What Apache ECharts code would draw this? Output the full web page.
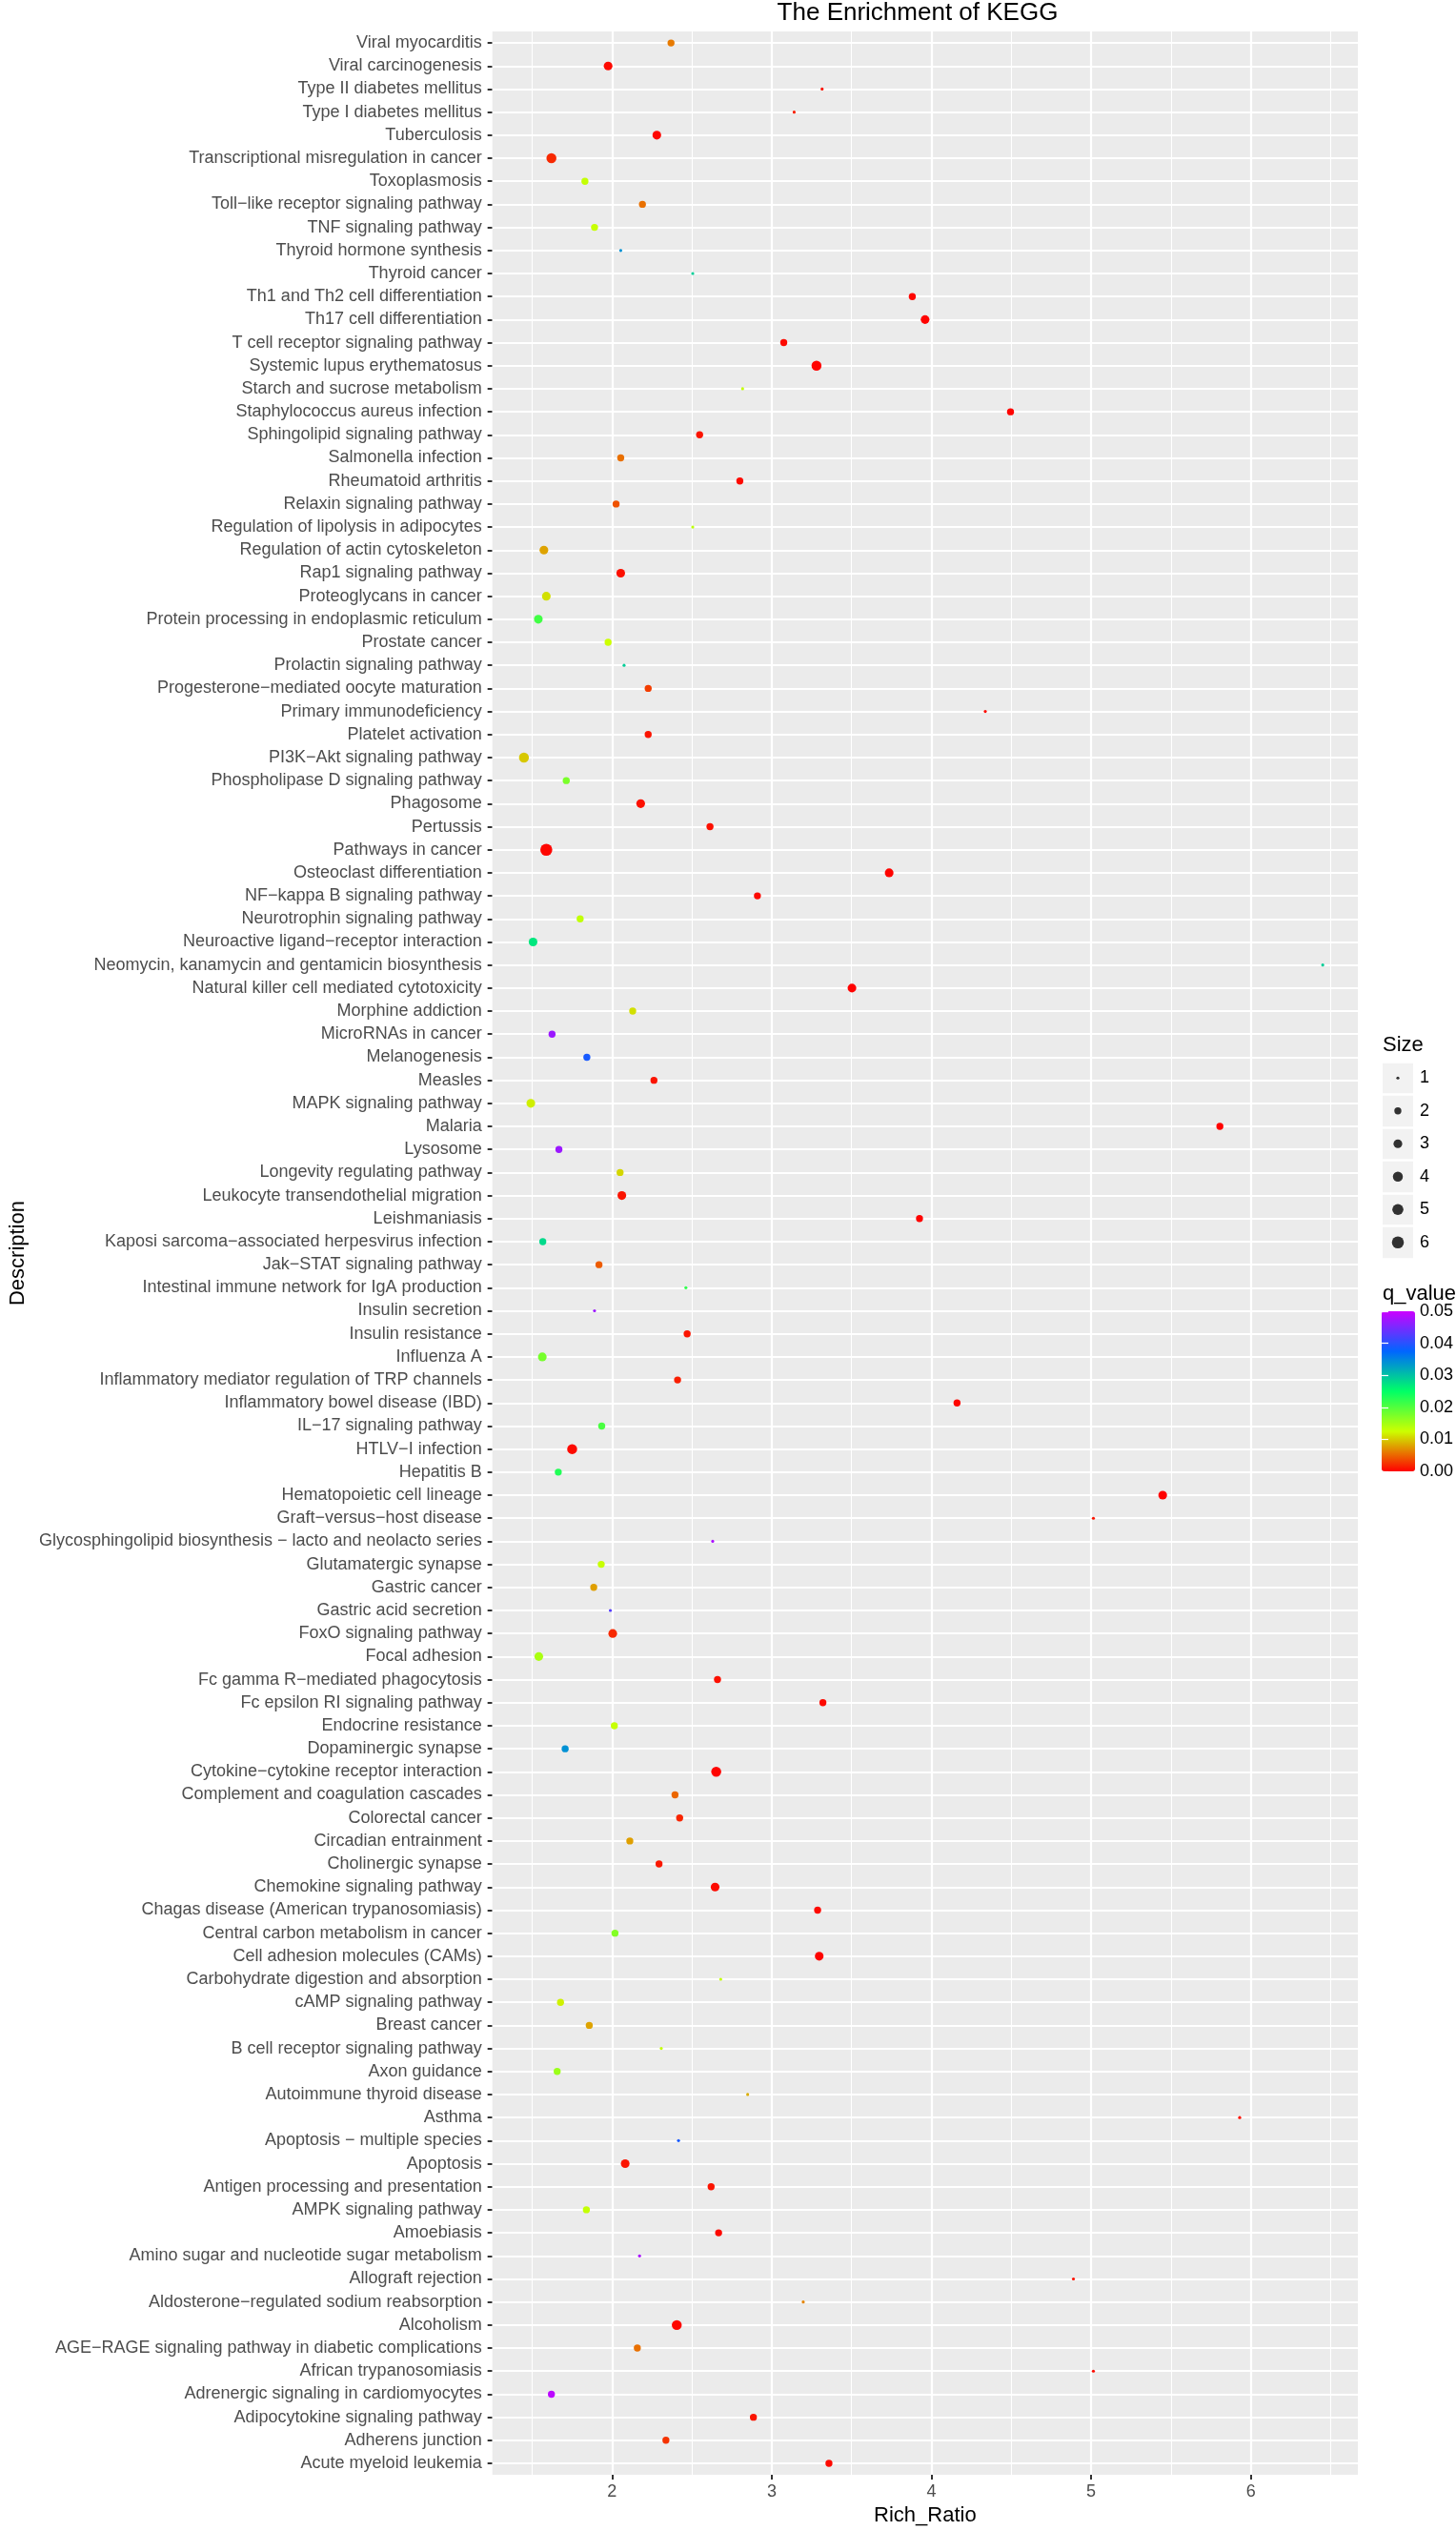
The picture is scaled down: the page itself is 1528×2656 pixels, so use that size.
<!DOCTYPE html>
<html>
<head>
<meta charset="utf-8">
<script src="https://cdn.jsdelivr.net/npm/echarts@6/dist/echarts.min.js"></script>
<style>
html,body{margin:0;padding:0;background:#fff;}
#chart{width:1528px;height:2656px;}
</style>
</head>
<body>
<div id="chart"></div>
<script>
const categories = [
"Viral myocarditis","Viral carcinogenesis","Type II diabetes mellitus","Type I diabetes mellitus","Tuberculosis",
"Transcriptional misregulation in cancer","Toxoplasmosis","Toll\u2212like receptor signaling pathway","TNF signaling pathway","Thyroid hormone synthesis",
"Thyroid cancer","Th1 and Th2 cell differentiation","Th17 cell differentiation","T cell receptor signaling pathway","Systemic lupus erythematosus",
"Starch and sucrose metabolism","Staphylococcus aureus infection","Sphingolipid signaling pathway","Salmonella infection","Rheumatoid arthritis",
"Relaxin signaling pathway","Regulation of lipolysis in adipocytes","Regulation of actin cytoskeleton","Rap1 signaling pathway","Proteoglycans in cancer",
"Protein processing in endoplasmic reticulum","Prostate cancer","Prolactin signaling pathway","Progesterone\u2212mediated oocyte maturation","Primary immunodeficiency",
"Platelet activation","PI3K\u2212Akt signaling pathway","Phospholipase D signaling pathway","Phagosome","Pertussis",
"Pathways in cancer","Osteoclast differentiation","NF\u2212kappa B signaling pathway","Neurotrophin signaling pathway","Neuroactive ligand\u2212receptor interaction",
"Neomycin, kanamycin and gentamicin biosynthesis","Natural killer cell mediated cytotoxicity","Morphine addiction","MicroRNAs in cancer","Melanogenesis",
"Measles","MAPK signaling pathway","Malaria","Lysosome","Longevity regulating pathway",
"Leukocyte transendothelial migration","Leishmaniasis","Kaposi sarcoma\u2212associated herpesvirus infection","Jak\u2212STAT signaling pathway","Intestinal immune network for IgA production",
"Insulin secretion","Insulin resistance","Influenza A","Inflammatory mediator regulation of TRP channels","Inflammatory bowel disease (IBD)",
"IL\u221217 signaling pathway","HTLV\u2212I infection","Hepatitis B","Hematopoietic cell lineage","Graft\u2212versus\u2212host disease",
"Glycosphingolipid biosynthesis \u2212 lacto and neolacto series","Glutamatergic synapse","Gastric cancer","Gastric acid secretion","FoxO signaling pathway",
"Focal adhesion","Fc gamma R\u2212mediated phagocytosis","Fc epsilon RI signaling pathway","Endocrine resistance","Dopaminergic synapse",
"Cytokine\u2212cytokine receptor interaction","Complement and coagulation cascades","Colorectal cancer","Circadian entrainment","Cholinergic synapse",
"Chemokine signaling pathway","Chagas disease (American trypanosomiasis)","Central carbon metabolism in cancer","Cell adhesion molecules (CAMs)","Carbohydrate digestion and absorption",
"cAMP signaling pathway","Breast cancer","B cell receptor signaling pathway","Axon guidance","Autoimmune thyroid disease",
"Asthma","Apoptosis \u2212 multiple species","Apoptosis","Antigen processing and presentation","AMPK signaling pathway",
"Amoebiasis","Amino sugar and nucleotide sugar metabolism","Allograft rejection","Aldosterone\u2212regulated sodium reabsorption","Alcoholism",
"AGE\u2212RAGE signaling pathway in diabetic complications","African trypanosomiasis","Adrenergic signaling in cardiomyocytes","Adipocytokine signaling pathway","Adherens junction",
"Acute myeloid leukemia"
];

const richRatio = [
2.369,1.975,3.315,3.14,2.28,
1.62,1.83,2.19,1.89,2.054,
2.505,3.88,3.96,3.075,3.28,
2.817,4.495,2.548,2.054,2.80,
2.025,2.505,1.573,2.054,1.588,
1.538,1.975,2.075,2.226,4.337,
2.226,1.448,1.713,2.179,2.613,
1.588,3.735,2.91,1.80,1.505,
6.45,3.502,2.129,1.624,1.842,
2.262,1.491,5.806,1.667,2.05,
2.061,3.925,1.566,1.918,2.462,
1.89,2.47,1.563,2.41,4.16,
1.935,1.75,1.663,5.448,5.014,
2.63,1.932,1.885,1.989,2.004,
1.541,2.66,3.32,2.014,1.706,
2.652,2.394,2.423,2.111,2.294,
2.645,3.287,2.018,3.297,2.68,
1.677,1.857,2.308,1.656,2.849,
5.93,2.416,2.082,2.62,1.839,
2.667,2.172,4.889,3.197,2.405,
2.158,5.014,1.62,2.885,2.337,
3.358
];

const qValue = [
0.006,0.0005,0.001,0.0015,0.0003,
0.002,0.013,0.0055,0.0128,0.034,
0.029,0.0003,0.0001,0.0005,0.0001,
0.013,0.0002,0.001,0.0055,0.0005,
0.004,0.0135,0.008,0.0008,0.011,
0.021,0.0125,0.029,0.003,0.0005,
0.001,0.0098,0.0175,0.0008,0.0008,
0.0003,0.0002,0.0005,0.0132,0.027,
0.029,0.0001,0.011,0.047,0.039,
0.001,0.0117,0.0001,0.047,0.0105,
0.001,0.0002,0.028,0.0045,0.022,
0.047,0.001,0.0178,0.0015,0.0003,
0.0205,0.0005,0.023,0.0001,0.001,
0.048,0.0128,0.0078,0.0427,0.002,
0.0146,0.0008,0.0005,0.0128,0.034,
0.0002,0.005,0.0018,0.0078,0.0012,
0.0005,0.0005,0.017,0.0002,0.013,
0.0118,0.008,0.013,0.0155,0.0085,
0.0008,0.039,0.001,0.001,0.013,
0.0005,0.048,0.0008,0.0065,0.0003,
0.0055,0.0005,0.049,0.001,0.0025,
0.0005
];

const geneSize = [
2,3,1,1,3,
4,2,2,2,1,
1,2,3,2,4,
1,2,2,2,2,
2,1,3,3,3,
3,2,1,2,1,
2,4,2,3,2,
6,3,2,2,3,
1,3,2,2,2,
2,3,2,2,2,
3,2,2,2,1,
1,2,3,2,2,
2,4,2,3,1,
1,2,2,1,3,
3,2,2,2,2,
4,2,2,2,2,
3,2,2,3,1,
2,2,1,2,1,
1,1,3,2,2,
2,1,1,1,4,
2,1,2,2,2,
2
];

const xTicks = [2, 3, 4, 5, 6];
const xMinorTicks = [1.5, 2.5, 3.5, 4.5, 5.5, 6.5];
const sizeBreaks = [1, 2, 3, 4, 5, 6];
const qColors = ['#FF0000', '#CCFF00', '#00FF66', '#0066FF', '#CC00FF'];

const FONT = "'Liberation Sans', Arial, Helvetica, sans-serif";
function diam(s) { return 3.2 + 9.4 * Math.sqrt((s - 1) / 5); }

const mainData = categories.map((c, i) => [richRatio[i], c, qValue[i], geneSize[i]]);

const gridLines = []
  .concat(xTicks.map(v => ({ xAxis: v, lineStyle: { color: '#FFFFFF', width: 2.2, type: 'solid' } })))
  .concat(xMinorTicks.map(v => ({ xAxis: v, lineStyle: { color: '#FFFFFF', width: 1.1, type: 'solid' } })))
  .concat(categories.map(c => ({ yAxis: c, lineStyle: { color: '#FFFFFF', width: 2.2, type: 'solid' } })));

const chart = echarts.init(document.getElementById('chart'), null, { renderer: 'canvas' });

chart.setOption({
  animation: false,
  backgroundColor: '#FFFFFF',
  textStyle: { fontFamily: FONT },
  graphic: [
    { type: 'text', x: 963, y: 14, style: { text: 'The Enrichment of KEGG', fill: '#000000', font: "26px " + FONT, align: 'center', verticalAlign: 'middle' } },
    { type: 'text', x: 1451, y: 1097, style: { text: 'Size', fill: '#000000', font: "22px " + FONT, align: 'left', verticalAlign: 'middle' } },
    { type: 'text', x: 1451, y: 1358, style: { text: 'q_value', fill: '#000000', font: "22px " + FONT, align: 'left', verticalAlign: 'middle' } }
  ],
  grid: [
    { left: 501, right: 103, top: 33, bottom: 53, show: true, backgroundColor: '#EBEBEB', borderWidth: 0 },
    { left: 1451, top: 1114, width: 32, height: 207, show: true, backgroundColor: '#F2F2F2', borderWidth: 0 },
    { left: 1450, top: 1376, width: 35, height: 168, show: false }
  ],
  xAxis: [
    {
      gridIndex: 0, type: 'value', min: 1.25, max: 6.67,
      name: 'Rich_Ratio', nameLocation: 'middle', nameGap: 27,
      nameTextStyle: { color: '#000000', fontSize: 22, fontFamily: FONT },
      axisLine: { show: false },
      axisTick: { show: true, customValues: xTicks, length: 5, lineStyle: { color: '#333333', width: 2 } },
      axisLabel: { customValues: xTicks, color: '#4D4D4D', fontSize: 18, fontFamily: FONT, margin: 9 },
      splitLine: { show: false }
    },
    { gridIndex: 1, type: 'value', min: 0, max: 1, show: false },
    { gridIndex: 2, type: 'value', min: 0, max: 1, show: false }
  ],
  yAxis: [
    {
      gridIndex: 0, type: 'category', data: categories, inverse: true,
      name: 'Description', nameLocation: 'middle', nameGap: 476,
      nameTextStyle: { color: '#000000', fontSize: 22, fontFamily: FONT },
      axisLine: { show: false },
      axisTick: { show: true, alignWithLabel: true, length: 5, lineStyle: { color: '#333333', width: 2 } },
      axisLabel: { interval: 0, color: '#4D4D4D', fontSize: 18, fontFamily: FONT, margin: 11 },
      splitLine: { show: false }
    },
    {
      gridIndex: 1, type: 'category', data: sizeBreaks.map(String), inverse: true, position: 'right',
      axisLine: { show: false }, axisTick: { show: false },
      axisLabel: { color: '#000000', fontSize: 18, fontFamily: FONT, margin: 7 },
      splitLine: { show: true, lineStyle: { color: '#FFFFFF', width: 2.5 } }
    },
    {
      gridIndex: 2, type: 'value', min: 0, max: 0.05, interval: 0.01, position: 'right', z: 10,
      axisLine: { show: false },
      axisTick: { show: true, inside: true, length: 7, lineStyle: { color: '#FFFFFF', width: 1.2 } },
      axisLabel: { color: '#000000', fontSize: 18, fontFamily: FONT, margin: 8, formatter: v => v.toFixed(2) },
      splitLine: { show: false }
    },
    {
      gridIndex: 2, type: 'value', min: 0, max: 0.05, interval: 0.01, position: 'left', z: 10,
      axisLine: { show: false },
      axisTick: { show: true, inside: true, length: 7, lineStyle: { color: '#FFFFFF', width: 1.2 } },
      axisLabel: { show: false },
      splitLine: { show: false }
    }
  ],
  visualMap: {
    type: 'continuous', min: 0, max: 0.05, dimension: 2, seriesIndex: 0,
    inRange: { color: qColors },
    calculable: false, realtime: false, hoverLink: false,
    orient: 'vertical', left: 1450, top: 1376, itemWidth: 35, itemHeight: 168,
    padding: 0, text: null, showLabel: false, z: 4
  },
  series: [
    {
      type: 'scatter', xAxisIndex: 0, yAxisIndex: 0, z: 3,
      data: mainData,
      symbol: 'circle',
      symbolSize: v => diam(v[3]),
      itemStyle: { opacity: 1 },
      silent: true,
      markLine: {
        silent: true, z: 1, symbol: ['none', 'none'], label: { show: false },
        animation: false, emphasis: { disabled: true },
        data: gridLines
      }
    },
    {
      type: 'scatter', xAxisIndex: 1, yAxisIndex: 1, z: 3, silent: true,
      data: sizeBreaks.map(s => [0.5, String(s), s]),
      symbol: 'circle',
      symbolSize: v => diam(v[2]),
      itemStyle: { color: '#000000' }
    },
    {
      type: 'scatter', xAxisIndex: 2, yAxisIndex: 2, silent: true, data: []
    }
  ]
});
</script>
</body>
</html>
